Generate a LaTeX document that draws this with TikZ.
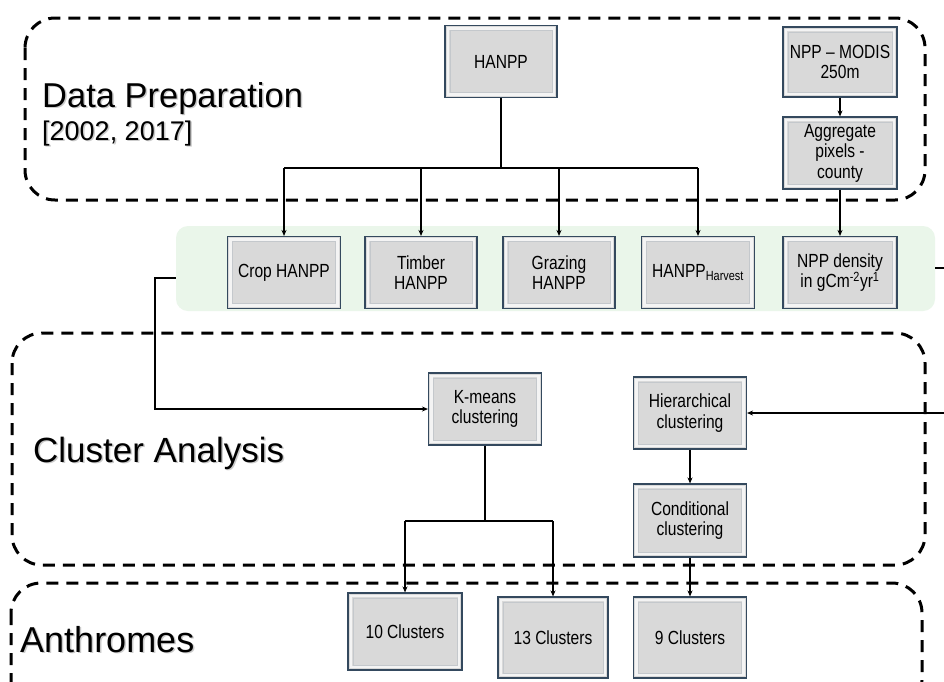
\documentclass[tikz,border=0pt]{standalone}
\usepackage{fontspec}
\setmainfont{Liberation Sans}
\newfontfamily\boxsans[FakeStretch=0.82]{Liberation Sans}
\usetikzlibrary{arrows.meta}
\definecolor{boxfill}{HTML}{D9D9D9}
\definecolor{boxline}{HTML}{34495E}
\definecolor{bandfill}{HTML}{EAF6EA}
\definecolor{bevellight}{HTML}{F4F4F4}
\definecolor{bevelmid}{HTML}{C4C8CC}
\begin{document}
\begin{tikzpicture}[x=1pt,y=-1pt,
  procbox/.style={draw=boxline, line width=1.1pt, fill=boxfill,
    minimum width=113pt, minimum height=72pt, inner sep=1pt, align=center,
    font=\boxsans\fontsize{19}{20.5}\selectfont,
    path picture={
      \draw[bevellight, line width=2.2pt]
        ([shift={(3pt,3pt)}]path picture bounding box.south west) rectangle
        ([shift={(-3pt,-3pt)}]path picture bounding box.north east);
      \draw[bevelmid, line width=0.6pt]
        ([shift={(5pt,5pt)}]path picture bounding box.south west) rectangle
        ([shift={(-5pt,-5pt)}]path picture bounding box.north east);
    }},
  stageframe/.style={draw=black, line width=3pt, dash pattern=on 12pt off 8pt, rounded corners=30pt},
  link/.style={draw=black, line width=1.3pt},
  arr/.style={link, -{Stealth[length=6pt,width=5pt]}},
  titletext/.style={anchor=base west, inner sep=0pt, text=black},
  titleshadow/.style={anchor=base west, inner sep=0pt, text=black!45, opacity=0.45},
]
\clip (0,0) rectangle (944,681);
\fill[white] (0,0) rectangle (944,681);

% stage frames
\draw[stageframe] (25,18) rectangle (925,200);
\draw[stageframe] (12,333) rectangle (925,565);
\draw[stageframe] (11,583) rectangle (922,710);

% green band
\node[fill=bandfill, rounded corners=12pt, minimum width=759pt, minimum height=85pt, inner sep=0pt] (band) at (555.5,268.5) {};

% titles
\node[titleshadow, font=\fontsize{34.5}{38}\selectfont] (dpS) at (43.5,108.5) {Data Preparation};
\node[titletext, font=\fontsize{34.5}{38}\selectfont] (dp) at (42,107) {Data Preparation};
\node[titleshadow, font=\fontsize{27}{32}\selectfont] (yrS) at (43.5,141.5) {[2002, 2017]};
\node[titletext, font=\fontsize{27}{32}\selectfont] (yr) at (42,140) {[2002, 2017]};
\node[titleshadow, font=\fontsize{35}{40}\selectfont] (caS) at (34.5,463.5) {Cluster Analysis};
\node[titletext, font=\fontsize{35}{40}\selectfont] (ca) at (33,462) {Cluster Analysis};
\node[titleshadow, font=\fontsize{36}{40}\selectfont] (anS) at (21.5,653.5) {Anthromes};
\node[titletext, font=\fontsize{36}{40}\selectfont] (an) at (20,652) {Anthromes};

% boxes
\node[procbox, minimum width=112pt] (hanpp) at (501,61.5) {HANPP};
\node[procbox, minimum width=114pt, minimum height=70pt] (npp) at (840,62) {NPP – MODIS\\250m};
\node[procbox, minimum width=114pt] (agg) at (840,153) {Aggregate\\pixels -\\county};

\node[procbox] (crop) at (284,272.5) {Crop HANPP};
\node[procbox, minimum width=112pt] (timber) at (421,272.5) {Timber\\HANPP};
\node[procbox, minimum width=112pt] (grazing) at (559,272.5) {Grazing\\HANPP};
\node[procbox] (hanh) at (698,272.5) {HANPP\textsubscript{Harvest}};
\node[procbox, minimum width=114pt] (nppd) at (840,272.5) {NPP density\\in gCm\textsuperscript{-2}yr\textsuperscript{1}};

\node[procbox] (kmeans) at (485,409) {K-means\\clustering};
\node[procbox] (hier) at (690,413) {Hierarchical\\clustering};
\node[procbox, minimum height=73pt] (cond) at (690,520.5) {Conditional\\clustering};

\node[procbox, minimum width=114pt, minimum height=77pt] (c10) at (405,631.5) {10 Clusters};
\node[procbox, minimum width=110pt, minimum height=81pt] (c13) at (553,637.5) {13 Clusters};
\node[procbox, minimum height=81pt] (c9) at (690,637.5) {9 Clusters};

% connectors: HANPP split
\coordinate (hs) at (501,168);
\draw[link] (hanpp.south) -- (hs);
\draw[link] (crop.north |- hs) -- (hanh.north |- hs);
\draw[arr] (crop.north |- hs) -- (crop.north);
\draw[arr] (timber.north |- hs) -- (timber.north);
\draw[arr] (grazing.north |- hs) -- (grazing.north);
\draw[arr] (hanh.north |- hs) -- (hanh.north);

% NPP chain
\draw[arr] (npp.south) -- (agg.north);
\draw[arr] (agg.south) -- (nppd.north);

% band to K-means (left)
\coordinate (lstub) at (155,278);
\draw[arr] (band.west |- lstub) -- (lstub) -- (lstub |- kmeans.west) -- (kmeans.west);

% band to hierarchical (right, leaves picture)
\coordinate (rstub) at (960,268);
\draw[link] (band.east |- rstub) -- (rstub) -- (rstub |- hier.east);
\draw[arr] (rstub |- hier.east) -- (hier.east);

% K-means split
\coordinate (ks) at (485,521);
\draw[link] (kmeans.south) -- (ks);
\draw[link] (c10.north |- ks) -- (c13.north |- ks);
\draw[arr] (c10.north |- ks) -- (c10.north);
\draw[arr] (c13.north |- ks) -- (c13.north);

% hierarchical chain
\draw[arr] (hier.south) -- (cond.north);
\draw[arr] (cond.south) -- (c9.north);
\end{tikzpicture}
\end{document}
